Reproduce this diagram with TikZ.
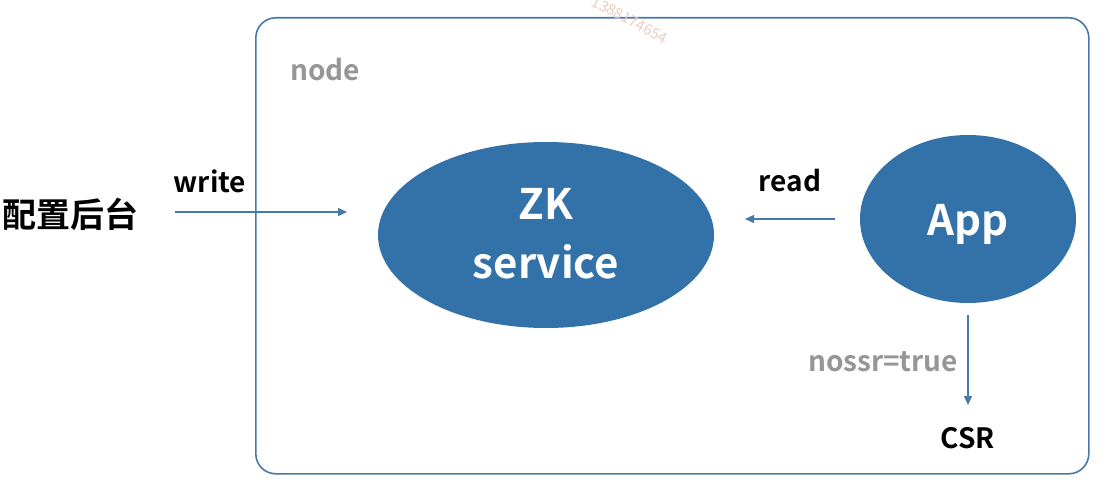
\documentclass[tikz,border=0pt]{standalone}
\usepackage{fontspec}
\setmainfont{Noto Sans CJK SC}[BoldFont={Noto Sans CJK SC Bold}]
\usetikzlibrary{arrows.meta,shapes.geometric}
\definecolor{zkblue}{RGB}{50,114,168}
\definecolor{lblue}{RGB}{70,120,170}
\definecolor{lgray}{RGB}{150,150,150}
\definecolor{wmark}{RGB}{235,205,195}
\tikzset{
  blob/.style={ellipse, fill=zkblue, draw=none, text=white, font=\bfseries\fontsize{42}{59}\selectfont, align=center, inner sep=0pt},
  conn/.style={draw=lblue, line width=1.3pt, -{Triangle[length=9pt,width=8pt]}},
  lbl/.style={font=\bfseries\fontsize{28}{32}\selectfont, text=black, inner sep=0pt},
  glbl/.style={font=\bfseries\fontsize{28}{32}\selectfont, text=lgray, inner sep=0pt},
  frame/.style={draw=lblue, line width=1.6pt, rounded corners=20pt}
}
\begin{document}
\begin{tikzpicture}[x=1pt,y=-1pt]
\useasboundingbox (0,0) rectangle (1111,484);
\fill[white] (0,0) rectangle (1111,484);
\node[frame, minimum width=833pt, minimum height=456pt, anchor=north west] (box) at (255,17) {};
\node[glbl] (nodelbl) at (325,70) {node};
\node[blob, minimum width=336pt, minimum height=186pt] (zk) at (546,235) {};
\node[text=white, font=\bfseries\fontsize{42}{50}\selectfont, inner sep=0pt] (zkt) at (546,204) {ZK};
\node[text=white, font=\bfseries\fontsize{42}{50}\selectfont, inner sep=0pt] (svc) at (546,262) {service};
\node[blob, minimum width=216pt, minimum height=168pt] (app) at (968,219) {};
\node[text=white, font=\bfseries\fontsize{42}{50}\selectfont, inner sep=0pt] (appt) at (968,224) {App};
\node[font=\bfseries\fontsize{34}{40}\selectfont, inner sep=0pt] (cfg) at (70,214) {配置后台};
\coordinate (ws) at (175,212);
\coordinate (we) at (347,212);
\draw[conn] (ws) -- (we);
\node[lbl] (write) at (210,181) {write};
\coordinate (rs) at (835,219);
\coordinate (re) at (745,219);
\draw[conn] (rs) -- (re);
\node[lbl] (read) at (790,181) {read};
\coordinate (ds) at (968,315);
\coordinate (de) at (968,405);
\draw[conn] (ds) -- (de);
\node[glbl] (nossr) at (883,362) {nossr=true};
\node[font=\bfseries\fontsize{28}{32}\selectfont, inner sep=0pt] (csr) at (968,438) {CSR};
\node[text=wmark, rotate=-28, font=\fontsize{15}{18}\selectfont, inner sep=0pt] (wm) at (630,20) {1388174654};
\end{tikzpicture}
\end{document}
